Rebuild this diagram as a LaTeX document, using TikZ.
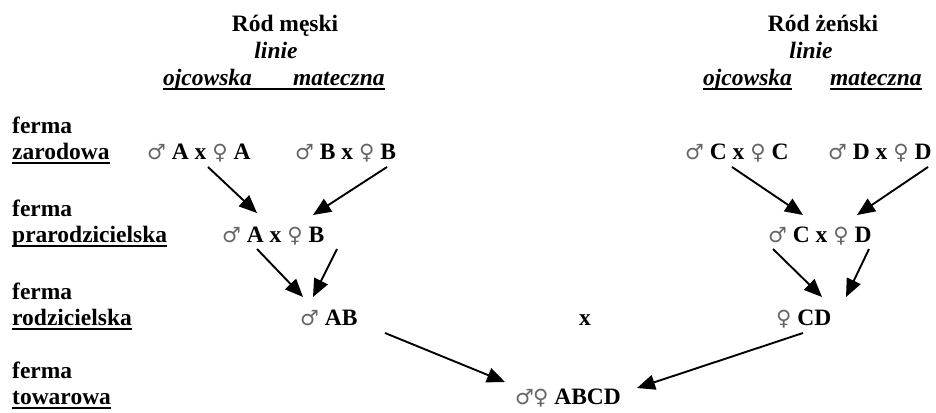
\documentclass[tikz,border=0pt]{standalone}
\usepackage{fontspec}
\setmainfont{Liberation Serif}
\newfontfamily\symfont{DejaVu Sans}
\usetikzlibrary{arrows.meta}
\definecolor{symgray}{gray}{0.4}
% sex symbols, set in a lighter grey sans face
\newcommand\msym{{\symfont\mdseries\color{symgray}\fontsize{21}{24}\selectfont ♂}}
\newcommand\fsym{{\symfont\mdseries\color{symgray}\fontsize{21}{24}\selectfont ♀}}
\tikzset{
  txt/.style={inner sep=0pt, font=\fontsize{23.5}{28}\selectfont\bfseries},
  lbl/.style={txt, anchor=base west},
  hdr/.style={txt, anchor=base},
  line/.style={txt, anchor=base west, font=\fontsize{23.5}{28}\selectfont\bfseries\itshape},
  ul/.style={line width=2pt},
  arr/.style={-{Triangle[length=18pt,width=15pt]}, line width=1.9pt}
}
\begin{document}
\begin{tikzpicture}[x=1pt,y=-1pt]
\useasboundingbox (0,0) rectangle (936,412);

% column headings
\node[hdr] (rm) at (285,32) {Ród męski};
\node[hdr, font=\fontsize{23.5}{28}\selectfont\bfseries\itshape] (lm) at (276,59) {linie};
\node[line] (ojm) at (163,85) {ojcowska};
\node[line] (mam) at (293,85) {mateczna};
\draw[ul] ([shift={(0,4)}]ojm.base west) -- ([shift={(0,4)}]mam.base east);

\node[hdr] (rz) at (823,32) {Ród żeński};
\node[hdr, font=\fontsize{23.5}{28}\selectfont\bfseries\itshape] (lz) at (811,59) {linie};
\node[line] (ojz) at (703,85) {ojcowska};
\node[line] (maz) at (830,85) {mateczna};
\draw[ul] ([shift={(0,4)}]ojz.base west) -- ([shift={(0,4)}]ojz.base east);
\draw[ul] ([shift={(0,4)}]maz.base west) -- ([shift={(0,4)}]maz.base east);

% farm levels
\node[lbl] (f1) at (12,133) {ferma};
\node[lbl] (zar) at (12,159) {zarodowa};
\node[lbl] (f2) at (12,216) {ferma};
\node[lbl] (prar) at (12,242) {prarodzicielska};
\node[lbl] (f3) at (12,299) {ferma};
\node[lbl] (rodz) at (12,325) {rodzicielska};
\node[lbl] (f4) at (12,378) {ferma};
\node[lbl] (tow) at (12,404) {towarowa};
\foreach \n in {zar,prar,rodz,tow}
  \draw[ul] ([shift={(0,4)}]\n.base west) -- ([shift={(0,4)}]\n.base east);

% crosses
\node[lbl] (aa) at (147,159) {\msym\ A x \fsym\ A};
\node[lbl] (bb) at (295,159) {\msym\ B x \fsym\ B};
\node[lbl] (cc) at (685,159) {\msym\ C x \fsym\ C};
\node[lbl] (dd) at (828,159) {\msym\ D x \fsym\ D};
\node[lbl] (ab) at (222,242) {\msym\ A x \fsym\ B};
\node[lbl] (cd) at (768,242) {\msym\ C x \fsym\ D};
\node[lbl] (mab) at (300,325) {\msym\ AB};
\node[hdr] (x) at (585,325) {x};
\node[lbl] (fcd) at (776,325) {\fsym\ CD};
\node[lbl] (abcd) at (515,404) {\msym\kern-1pt\fsym\ ABCD};

% lines of descent
\draw[arr] ([shift={(61,8)}]aa.base west) -- ([shift={(35,-29)}]ab.base west);
\draw[arr] ([shift={(92,8)}]bb.base west) -- ([shift={(91,-27)}]ab.base west);
\draw[arr] ([shift={(47,8)}]cc.base west) -- ([shift={(35,-27)}]cd.base west);
\draw[arr] ([shift={(100,8)}]dd.base west) -- ([shift={(89,-27)}]cd.base west);
\draw[arr] ([shift={(35,7)}]ab.base west) -- ([shift={(3,-28)}]mab.base west);
\draw[arr] ([shift={(115,7)}]ab.base west) -- ([shift={(13,-28)}]mab.base west);
\draw[arr] ([shift={(5,7)}]cd.base west) -- ([shift={(46,-28)}]fcd.base west);
\draw[arr] ([shift={(101,7)}]cd.base west) -- ([shift={(70,-28)}]fcd.base west);
\draw[arr] ([shift={(85,8)}]mab.base west) -- ([shift={(-10,-22)}]abcd.base west);
\draw[arr] ([shift={(27,8)}]fcd.base west) -- ([shift={(122,-16)}]abcd.base west);
\end{tikzpicture}
\end{document}
